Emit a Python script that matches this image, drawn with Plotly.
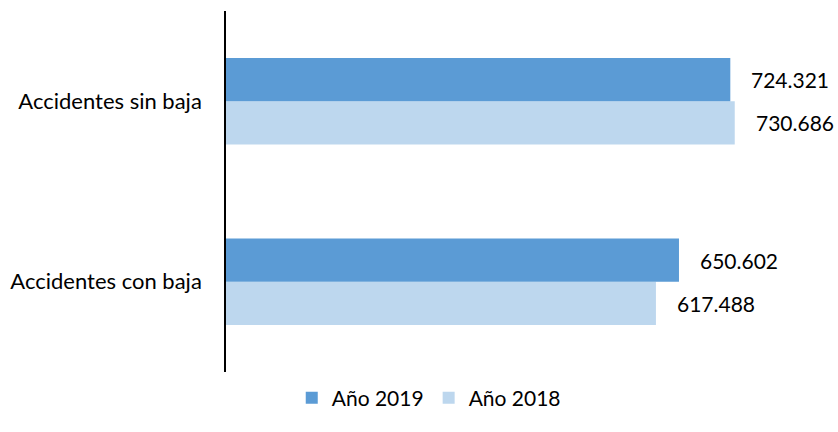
import plotly.graph_objects as go

categories = ["Accidentes con baja", "Accidentes sin baja"]
values_2019 = [650602, 724321]
values_2018 = [617488, 730686]
series_names = ["Año 2018", "Año 2019"]

color_2019 = "#5B9BD5"
color_2018 = "#BDD7EE"
FONT = "Lato"

def fmt(v):
    return f"{v:,}".replace(",", ".")

fig = go.Figure()
fig.add_trace(go.Bar(y=categories, x=values_2018, orientation="h", name=series_names[0],
                     marker=dict(color=color_2018, line=dict(width=0))))
fig.add_trace(go.Bar(y=categories, x=values_2019, orientation="h", name=series_names[1],
                     marker=dict(color=color_2019, line=dict(width=0))))

annotations = []
off = 0.119
for i, (v18, v19) in enumerate(zip(values_2018, values_2019)):
    annotations.append(dict(x=v19, y=i + off, xref="x", yref="y", text=fmt(v19),
                            showarrow=False, xanchor="left", xshift=19,
                            font=dict(family=FONT, size=21, color="#000000")))
    annotations.append(dict(x=v18, y=i - off, xref="x", yref="y", text=fmt(v18),
                            showarrow=False, xanchor="left", xshift=19,
                            font=dict(family=FONT, size=21, color="#000000")))

fig.update_layout(
    width=838, height=432,
    margin=dict(l=226, r=55, t=11, b=60, autoexpand=False),
    barmode="group", bargap=0.52, bargroupgap=0,
    plot_bgcolor="white", paper_bgcolor="white",
    font=dict(family=FONT, size=22, color="#000000"),
    showlegend=True,
    legend=dict(orientation="h", traceorder="reversed", x=0.364, xanchor="center",
                y=-0.072, yanchor="middle",
                font=dict(family=FONT, size=21, color="#000000")),
    annotations=annotations,
)
fig.update_xaxes(range=[0, 800000], visible=False, showgrid=False, zeroline=False, automargin=False)
fig.update_yaxes(showline=True, linecolor="#000000", linewidth=1.5, showgrid=False, automargin=False,
                 ticks="", ticklabelstandoff=18, tickfont=dict(family=FONT, size=22, color="#000000"),
                 range=[-0.5, 1.5])

fig.write_html("out.html", config={"displayModeBar": False},
               post_script="document.body.style.margin='0';document.body.style.overflow='hidden';")
